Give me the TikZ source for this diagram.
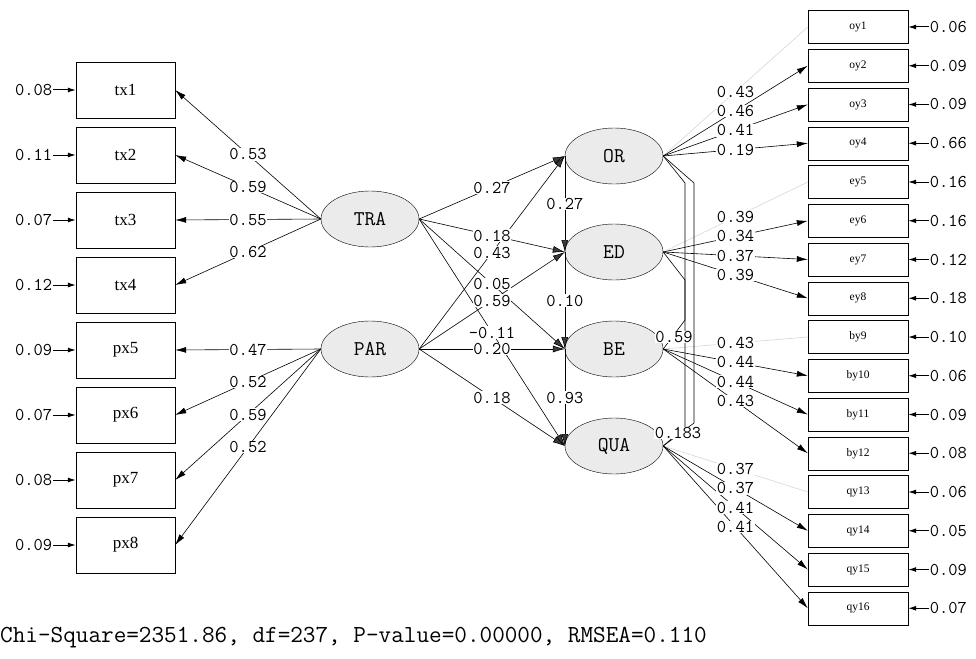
\documentclass[tikz,border=0pt]{standalone}
\usepackage{fontspec}
\setmainfont{Liberation Serif}
\usetikzlibrary{arrows.meta,shapes.geometric}
\definecolor{ellfill}{HTML}{EBEBEB}
\definecolor{headfill}{HTML}{3A3A3A}
\definecolor{fixline}{HTML}{D6D6D6}

\tikzset{
  obsl/.style={draw, minimum width=99pt, minimum height=56pt, inner sep=0pt, font=\fontsize{17}{17}\selectfont},
  obsr/.style={draw, minimum width=100pt, minimum height=33pt, inner sep=0pt, font=\fontsize{11.5}{11.5}\selectfont},
  latent/.style={draw, ellipse, fill=ellfill, minimum width=98pt, minimum height=56pt, inner sep=0pt, font=\ttfamily\fontsize{21}{21}\selectfont},
  val/.style={font=\ttfamily\fontsize{18}{18}\selectfont, inner sep=0.6pt},
  coef/.style={val, fill=white},
  load/.style={line width=0.6pt, -{Latex[length=11pt,width=6pt]}},
  effect/.style={line width=0.6pt, -{Latex[length=12pt,width=7pt,fill=headfill]}},
  fixed/.style={line width=0.6pt, fixline},
  err/.style={line width=1pt, -{Latex[length=8pt,width=5pt]}},
}

\begin{document}
\begin{tikzpicture}[x=1pt, y=-1pt]
  \useasboundingbox (0,0) rectangle (976,658);
  % Latent variables
  \node[latent] (TRA) at (370,219) {TRA};
  \node[latent] (PAR) at (370,349) {PAR};
  \node[latent] (OR) at (614,156) {OR};
  \node[latent] (ED) at (614,252) {ED};
  \node[latent] (BE) at (614,349) {BE};
  \node[latent] (QUA) at (614,446) {QUA};
  % Left indicators with error terms
  \foreach \n/\e [count=\i] in {tx1/0.08,tx2/0.11,tx3/0.07,tx4/0.12,px5/0.09,px6/0.07,px7/0.08,px8/0.09}{
    \node[obsl] (\n) at (125.5,{90+65*(\i-1)}) {\n};
    \node[val, anchor=east] (e\n) at (53,{90+65*(\i-1)}) {\e};
    \draw[err] (e\n) -- (\n);
  }
  % Right indicators with error terms
  \foreach \n/\e [count=\i] in {oy1/0.06,oy2/0.09,oy3/0.09,oy4/0.66,ey5/0.16,ey6/0.16,ey7/0.12,ey8/0.18,by9/0.10,by10/0.06,by11/0.09,by12/0.08,qy13/0.06,qy14/0.05,qy15/0.09,qy16/0.07}{
    \node[obsr] (\n) at (858,{27+38.75*(\i-1)}) {\n};
    \node[val, anchor=west] (e\n) at (929,{27+38.75*(\i-1)}) {\e};
    \draw[err] (e\n) -- (\n);
  }
  % Loadings, left
  \foreach \s/\t in {TRA/tx1,TRA/tx2,TRA/tx3,TRA/tx4,PAR/px5,PAR/px6,PAR/px7,PAR/px8}
    \draw[load] (\s.west) -- (\t.east);
  % Loadings, right
  \foreach \s/\t in {OR/oy1,ED/ey5,BE/by9,QUA/qy13}
    \draw[fixed] (\s.east) -- (\t.west);
  \foreach \s/\t in {OR/oy2,OR/oy3,OR/oy4,ED/ey6,ED/ey7,ED/ey8,BE/by10,BE/by11,BE/by12,QUA/qy14,QUA/qy15,QUA/qy16}
    \draw[load] (\s.east) -- (\t.west);
  % Structural paths
  \foreach \s/\t in {TRA/OR,TRA/ED,TRA/BE,TRA/QUA,PAR/OR,PAR/ED,PAR/BE,PAR/QUA}
    \draw[effect] (\s.east) -- (\t.west);
  \foreach \s/\t in {OR/ED,ED/BE,BE/QUA}
    \draw[effect] (\s.west) -- (\t.west);
  % Side paths
  \draw[line width=0.6pt] (OR.east) -- (694,183) -- (694,423) -- (QUA.east);
  \draw[line width=0.6pt] (OR.east) -- (685,183) -- (685,427) -- (QUA.east);
  \draw[line width=0.6pt] (ED.east) -- (685,280) -- (685,320) -- (BE.east);
  % Coefficients
  \foreach \s/\t/\w in {TRA/tx1/0.53,TRA/tx2/0.59,TRA/tx3/0.55,TRA/tx4/0.62,PAR/px5/0.47,PAR/px6/0.52,PAR/px7/0.59,PAR/px8/0.52}
    \path (\s.west) -- (\t.east) node[coef, pos=0.5] {\w};
  \foreach \s/\t/\w in {OR/oy1/0.43,OR/oy2/0.46,OR/oy3/0.41,OR/oy4/0.19,ED/ey5/0.39,ED/ey6/0.34,ED/ey7/0.37,ED/ey8/0.39,BE/by9/0.43,BE/by10/0.44,BE/by11/0.44,BE/by12/0.43,QUA/qy13/0.37,QUA/qy14/0.37,QUA/qy15/0.41,QUA/qy16/0.41}
    \path (\s.east) -- (\t.west) node[coef, pos=0.5] {\w};
  \foreach \s/\t/\w in {TRA/OR/0.27,TRA/ED/0.18,TRA/BE/0.05,TRA/QUA/-0.11,PAR/OR/0.43,PAR/ED/0.59,PAR/BE/0.20,PAR/QUA/0.18}
    \path (\s.east) -- (\t.west) node[coef, pos=0.5] {\w};
  \foreach \s/\t/\w in {OR/ED/0.27,ED/BE/0.10,BE/QUA/0.93}
    \path (\s.west) -- (\t.west) node[coef, pos=0.5] {\w};
  \node[coef] (cBE) at (674,337) {0.59};
  \node[coef] (cQUA) at (678,433) {0.183};
  % Fit statistics
  \node[anchor=west, inner sep=0pt, font=\ttfamily\fontsize{24.5}{24.5}\selectfont] (fit) at (0,638) {Chi-Square=2351.86, df=237, P-value=0.00000, RMSEA=0.110};
\end{tikzpicture}
\end{document}
